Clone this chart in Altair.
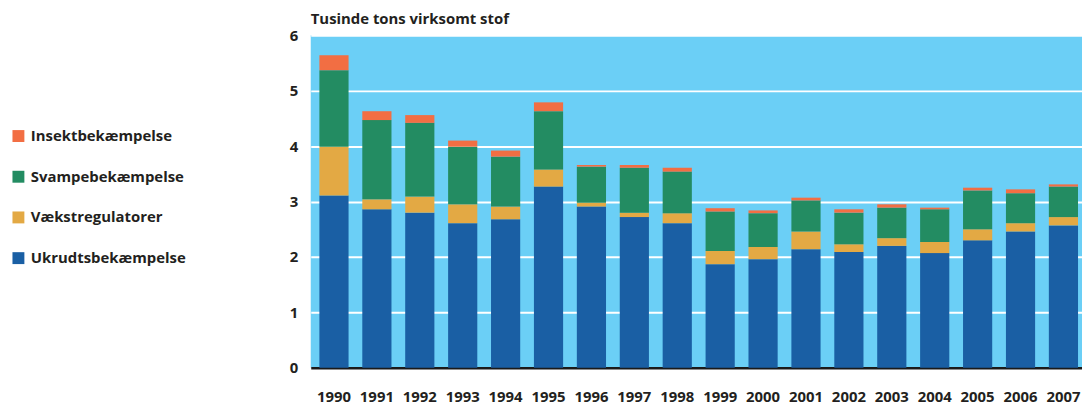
import altair as alt
import pandas as pd

years = [str(y) for y in range(1990, 2008)]
categories = ["Insektbekæmpelse", "Svampebekæmpelse", "Vækstregulatorer", "Ukrudtsbekæmpelse"]
colors = ["#f26e43", "#238c62", "#e3a944", "#1a5fa4"]

ukrudt = [3.11, 2.86, 2.80, 2.61, 2.68, 3.27, 2.91, 2.72, 2.61, 1.87, 1.96, 2.14, 2.09, 2.20, 2.07, 2.30, 2.46, 2.57]
vaekst = [0.88, 0.18, 0.29, 0.34, 0.23, 0.31, 0.07, 0.08, 0.18, 0.24, 0.22, 0.32, 0.14, 0.14, 0.20, 0.20, 0.15, 0.15]
svampe = [1.38, 1.43, 1.33, 1.04, 0.90, 1.05, 0.65, 0.81, 0.75, 0.71, 0.61, 0.56, 0.57, 0.55, 0.59, 0.70, 0.54, 0.55]
insekt = [0.27, 0.16, 0.14, 0.11, 0.11, 0.16, 0.03, 0.05, 0.07, 0.06, 0.05, 0.05, 0.06, 0.06, 0.03, 0.05, 0.07, 0.04]

series = {
    "Ukrudtsbekæmpelse": ukrudt,
    "Vækstregulatorer": vaekst,
    "Svampebekæmpelse": svampe,
    "Insektbekæmpelse": insekt,
}
stack_order = {"Ukrudtsbekæmpelse": 0, "Vækstregulatorer": 1, "Svampebekæmpelse": 2, "Insektbekæmpelse": 3}

rows = []
for cat, vals in series.items():
    for y, v in zip(years, vals):
        rows.append({"year": y, "kategori": cat, "value": v, "ord": stack_order[cat]})
df = pd.DataFrame(rows)

FONT = "Open Sans"
TXT = "#231f20"

chart = alt.Chart(df).mark_bar().encode(
    x=alt.X("year:O", title=None,
            scale=alt.Scale(paddingInner=0.32, paddingOuter=0.147, align=0.685),
            axis=alt.Axis(labelAngle=0, ticks=False, domain=True, domainColor="#1a1a1a",
                          domainWidth=2.5, labelPadding=22, labelFontSize=15,
                          labelFont=FONT, labelFontWeight="bold", labelColor=TXT, grid=False)),
    y=alt.Y("value:Q", title=None, stack="zero",
            scale=alt.Scale(domain=[0, 6], nice=False),
            axis=alt.Axis(values=[0, 1, 2, 3, 4, 5, 6], ticks=False, domain=False,
                          labelPadding=13, labelFontSize=15, labelFont=FONT,
                          labelFontWeight="bold", labelColor=TXT,
                          grid=True, gridColor="white", gridWidth=2, gridOpacity=1)),
    color=alt.Color("kategori:N", scale=alt.Scale(domain=categories, range=colors),
                    legend=alt.Legend(title=None, orient="none", legendX=-302, legendY=94,
                                      symbolType="square", symbolSize=144, symbolStrokeWidth=0,
                                      symbolOpacity=1,
                                      labelFontSize=15, labelFont=FONT, labelFontWeight="bold",
                                      labelColor=TXT, labelOffset=5, rowPadding=25,
                                      labelLimit=300)),
    order=alt.Order("ord:Q", sort="ascending"),
).properties(
    width=777, height=335,
    background="white",
    title=alt.TitleParams("Tusinde tons virksomt stof", anchor="start", frame="group",
                          fontSize=15, font=FONT, fontWeight="bold", color=TXT, offset=1),
    autosize=alt.AutoSizeParams(type="none"),
    padding={"left": 305, "top": 26, "right": 0, "bottom": 40},
).configure_view(fill="#6bcff6", stroke=None)

chart.save("out.html", embed_options={"renderer": "svg", "actions": False})
